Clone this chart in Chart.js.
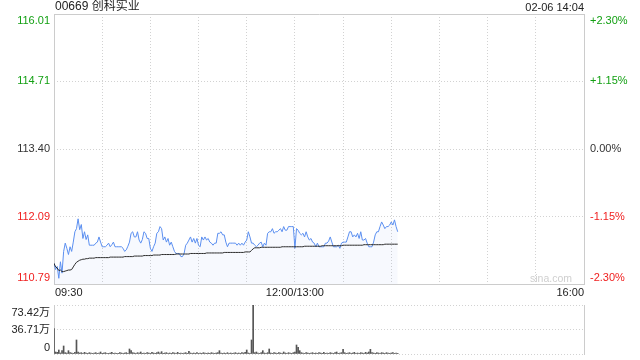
<!DOCTYPE html>
<html>
<head>
<meta charset="utf-8">
<script src="https://cdn.jsdelivr.net/npm/chart.js@4.4.1/dist/chart.umd.min.js"></script>
<style>
  html, body { margin: 0; padding: 0; background: #fff; }
  #wrap { position: relative; width: 640px; height: 360px; overflow: hidden; }
  #wrap canvas { position: absolute; left: 0; }
</style>
</head>
<body>
<div id="wrap">
  <canvas id="priceChart" width="640" height="300" style="top:0"></canvas>
  <canvas id="volChart" width="640" height="70" style="top:290px"></canvas>
</div>
<script>
const stockName = "00669 创科实业";
const stamp = "02-06 14:04";
const prevClose = 113.40;
const priceTicks = [110.79, 112.09, 113.40, 114.71, 116.01];
const pctTicks = ["-2.30%", "-1.15%", "0.00%", "+1.15%", "+2.30%"];
// minutes from 09:30 (lunch break removed), grid every half hour
const gridMinutes = [0, 30, 60, 90, 120, 150, 180, 210, 240, 270, 300, 330];
const timeLabels = ["09:30", "12:00/13:00", "16:00"];
const timeLabelMinutes = [0, 150, 330];
const volTicks = [0, 36.71, 73.42];
const volTickLabels = ["0", "36.71万", "73.42万"];

// one value per minute, 09:30 .. 14:04
const prices = [
  111.19, 111.07, 111.13, 110.90, 111.22, 111.00, 111.42, 111.58, 111.48, 111.36,
  111.51, 111.42, 111.60, 111.80, 111.86, 112.05, 111.84, 111.94, 111.67, 111.80,
  111.65, 111.74, 111.54, 111.54, 111.54, 111.54, 111.58, 111.60, 111.70, 111.60,
  111.51, 111.51, 111.51, 111.54, 111.58, 111.51, 111.55, 111.60, 111.51, 111.51,
  111.51, 111.51, 111.51, 111.48, 111.42, 111.45, 111.52, 111.60, 111.77, 111.80,
  111.70, 111.70, 111.80, 111.64, 111.58, 111.65, 111.80, 111.77, 111.67, 111.67,
  111.48, 111.42, 111.51, 111.58, 111.77, 111.80, 111.90, 111.86, 111.64, 111.70,
  111.60, 111.67, 111.54, 111.60, 111.51, 111.42, 111.38, 111.38, 111.38, 111.32,
  111.32, 111.38, 111.54, 111.58, 111.64, 111.70, 111.60, 111.67, 111.58, 111.67,
  111.54, 111.51, 111.70, 111.64, 111.70, 111.64, 111.67, 111.60, 111.58, 111.54,
  111.58, 111.58, 111.77, 111.77, 111.80, 111.74, 111.74, 111.60, 111.51, 111.58,
  111.58, 111.58, 111.58, 111.58, 111.54, 111.58, 111.54, 111.58, 111.54, 111.60,
  111.64, 111.80, 111.70, 111.58, 111.58, 111.54, 111.51, 111.54, 111.58, 111.60,
  111.51, 111.58, 111.54, 111.77, 111.80, 111.80, 111.86, 111.77, 111.80, 111.80,
  111.83, 111.86, 111.80, 111.90, 111.83, 111.83, 111.90, 111.90, 111.90, 111.90,
  111.48,
  111.86, 111.83, 111.77, 111.74, 111.77, 111.70, 111.80, 111.70, 111.64, 111.67,
  111.60, 111.58, 111.51, 111.58, 111.51, 111.51, 111.51, 111.51, 111.58, 111.58,
  111.62, 111.70, 111.60, 111.51, 111.51, 111.51, 111.54, 111.48, 111.58, 111.60,
  111.60, 111.60, 111.70, 111.80, 111.80, 111.70, 111.74, 111.70, 111.77, 111.67,
  111.80, 111.64, 111.64, 111.67, 111.58, 111.51, 111.51, 111.51, 111.60, 111.74,
  111.80, 111.80, 111.90, 111.99, 111.93, 111.86, 111.90, 111.90, 111.93, 111.99,
  111.93, 112.03, 111.90, 111.80
];

const avgPrices = [
  111.19, 111.12, 111.10, 111.05, 111.06, 111.03, 111.03, 111.04, 111.05, 111.06,
  111.06, 111.07, 111.12, 111.17, 111.21, 111.23, 111.25, 111.26, 111.27, 111.27,
  111.28, 111.28, 111.29, 111.29, 111.29, 111.29, 111.30, 111.30, 111.30, 111.30,
  111.30, 111.30, 111.30, 111.30, 111.30, 111.31, 111.31, 111.31, 111.31, 111.31,
  111.31, 111.31, 111.31, 111.31, 111.32, 111.32, 111.32, 111.32, 111.32, 111.32,
  111.33, 111.33, 111.33, 111.33, 111.33, 111.33, 111.34, 111.34, 111.34, 111.34,
  111.34, 111.34, 111.35, 111.35, 111.35, 111.35, 111.35, 111.36, 111.36, 111.36,
  111.36, 111.36, 111.36, 111.36, 111.36, 111.36, 111.37, 111.37, 111.37, 111.37,
  111.37, 111.37, 111.37, 111.37, 111.37, 111.38, 111.38, 111.38, 111.38, 111.38,
  111.38, 111.38, 111.38, 111.38, 111.38, 111.39, 111.39, 111.39, 111.39, 111.39,
  111.39, 111.39, 111.39, 111.39, 111.39, 111.39, 111.40, 111.40, 111.40, 111.40,
  111.40, 111.40, 111.40, 111.40, 111.40, 111.40, 111.40, 111.40, 111.40, 111.41,
  111.41, 111.41, 111.41, 111.44, 111.47, 111.49, 111.49, 111.49, 111.49, 111.50,
  111.50, 111.50, 111.50, 111.50, 111.50, 111.50, 111.50, 111.50, 111.50, 111.50,
  111.50, 111.50, 111.51, 111.51, 111.51, 111.51, 111.51, 111.51, 111.51, 111.51,
  111.51, 111.51, 111.51, 111.51, 111.51, 111.51, 111.52, 111.52, 111.52, 111.52,
  111.52, 111.52, 111.52, 111.52, 111.52, 111.52, 111.52, 111.53, 111.53, 111.53,
  111.53, 111.53, 111.53, 111.53, 111.53, 111.53, 111.53, 111.53, 111.53, 111.53,
  111.54, 111.54, 111.54, 111.54, 111.54, 111.54, 111.54, 111.54, 111.54, 111.54,
  111.54, 111.54, 111.54, 111.55, 111.55, 111.55, 111.55, 111.55, 111.55, 111.55,
  111.55, 111.55, 111.55, 111.55, 111.55, 111.55, 111.56, 111.56, 111.56, 111.56,
  111.56, 111.56, 111.56, 111.56, 111.56
];

// volume in 万 shares per minute
const volumes = [
  38.0, 3.0, 2.5, 6.0, 1.5, 5.0, 12.0, 2.0, 1.5, 5.0,
  2.0, 1.5, 1.0, 2.5, 21.0, 3.0, 1.5, 2.0, 1.0, 2.5,
  1.5, 1.0, 2.0, 1.5, 1.0, 1.5, 2.0, 1.0, 1.5, 3.0,
  1.0, 1.5, 2.0, 1.0, 1.0, 1.5, 2.5, 1.0, 1.5, 1.0,
  1.0, 2.0, 1.5, 1.0, 1.5, 2.0, 1.0, 7.5, 5.0, 2.0,
  1.5, 1.0, 2.0, 1.5, 3.0, 1.0, 1.5, 1.0, 2.0, 1.5,
  1.0, 2.5, 1.5, 1.0, 2.0, 3.0, 1.5, 3.5, 1.0, 1.5,
  2.0, 1.0, 1.5, 1.0, 2.0, 1.5, 1.0, 2.5, 1.0, 1.5,
  1.0, 1.5, 2.0, 1.0, 4.0, 1.5, 1.0, 1.5, 1.0, 2.0,
  1.0, 1.5, 1.0, 2.0, 1.5, 1.0, 1.5, 1.0, 2.0, 1.5,
  1.0, 1.5, 2.0, 5.0, 1.5, 1.0, 1.5, 1.0, 2.0, 1.0,
  1.5, 1.0, 1.5, 2.0, 1.0, 1.5, 1.0, 2.0, 1.5, 2.5,
  6.0, 1.5, 1.0, 21.0, 73.42, 2.0, 3.0, 1.5, 1.0, 2.0,
  5.0, 1.5, 1.0, 2.0, 7.5, 1.5, 1.0, 2.0, 1.5, 1.0,
  2.0, 1.5, 1.0, 3.0, 1.5, 1.0, 2.0, 1.5, 1.0, 2.0,
  3.0, 13.5, 10.0, 5.0, 2.0, 1.5, 1.0, 2.0, 1.5, 1.0,
  1.5, 2.0, 1.0, 1.5, 1.0, 2.0, 1.5, 1.0, 2.5, 1.0,
  1.5, 1.0, 2.0, 1.5, 1.0, 2.0, 3.0, 1.0, 1.5, 2.0,
  7.0, 2.0, 1.0, 1.5, 2.0, 1.0, 1.5, 2.5, 1.0, 1.5,
  1.0, 2.0, 1.5, 1.0, 2.5, 1.5, 3.0, 7.0, 2.0, 1.5,
  1.0, 2.0, 1.5, 1.0, 2.0, 1.5, 1.0, 2.0, 1.5, 1.0,
  1.5, 2.0, 1.0, 1.5, 1.0
];

const FONT = '"Liberation Sans", Arial, "Noto Sans CJK SC", sans-serif';
const GREEN = '#13a013';
const RED = '#f02020';
const GRID = '#d2d2d2';
const FRAME = '#cccccc';

function tickColor(v) {
  if (v > prevClose + 0.001) return GREEN;
  if (v < prevClose - 0.001) return RED;
  return '#333';
}

// solid frame around the plot area
const framePlugin = {
  id: 'frame',
  beforeDatasetsDraw(chart, args, opts) {
    const a = chart.chartArea, c = chart.ctx;
    const l = Math.round(a.left) + 0.5, r = Math.round(a.right) + 0.5;
    const t = Math.round(a.top) + 0.5, b = Math.round(a.bottom) + 0.5;
    c.save();
    c.strokeStyle = FRAME;
    c.lineWidth = 1;
    c.beginPath();
    c.moveTo(l, t - 0.5); c.lineTo(l, b + 0.5);
    c.moveTo(r, t - 0.5); c.lineTo(r, b + 0.5);
    if (opts.full) {
      c.moveTo(l, t); c.lineTo(r, t);
      c.moveTo(l, b); c.lineTo(r, b);
    }
    c.stroke();
    c.restore();
  }
};

const priceText = {
  id: 'priceText',
  afterDraw(chart) {
    const c = chart.ctx, xs = chart.scales.x, ys = chart.scales.y, a = chart.chartArea;
    c.save();
    c.textBaseline = 'middle';
    c.fillStyle = '#222';
    c.font = '12px ' + FONT;
    c.textAlign = 'left';
    c.fillText(stockName, a.left + 1, 7);
    c.font = '11px ' + FONT;
    c.textAlign = 'right';
    c.fillText(stamp, a.right, 8);

    priceTicks.forEach((v, i) => {
      let py = ys.getPixelForValue(v);
      if (i === 0) py -= 6;
      if (i === priceTicks.length - 1) py += 7;
      c.fillStyle = tickColor(v);
      c.textAlign = 'right';
      c.fillText(v.toFixed(2), a.left - 4, py);
      c.textAlign = 'left';
      c.fillText(pctTicks[i], a.right + 6, py);
    });

    const aligns = ['left', 'center', 'right'];
    c.fillStyle = '#222';
    timeLabels.forEach((t, i) => {
      c.textAlign = aligns[i];
      c.fillText(t, xs.getPixelForValue(timeLabelMinutes[i]) + (i === 0 ? 1 : 0), a.bottom + 9);
    });

    c.fillStyle = '#cfcfcf';
    c.font = '10.5px ' + FONT;
    c.textAlign = 'right';
    c.fillText('sina.com', a.right - 12, a.bottom - 5);
    c.restore();
  }
};

const volText = {
  id: 'volText',
  afterDraw(chart) {
    const c = chart.ctx, ys = chart.scales.y, a = chart.chartArea;
    c.save();
    c.textBaseline = 'middle';
    c.textAlign = 'right';
    c.fillStyle = '#222';
    c.font = '11px ' + FONT;
    volTicks.forEach((v, i) => {
      let py = ys.getPixelForValue(v);
      if (i === 0) py -= 6;
      if (i === volTicks.length - 1) py += 8;
      c.fillText(volTickLabels[i], a.left - 4, py);
    });
    c.restore();
  }
};

const priceCtx = document.getElementById('priceChart').getContext('2d');
new Chart(priceCtx, {
  type: 'line',
  data: {
    datasets: [
      {
        label: 'avg',
        data: avgPrices.map((p, i) => ({ x: i, y: p })),
        borderColor: '#2b2b2b',
        borderWidth: 1,
        pointRadius: 0,
        fill: false,
        order: 1
      },
      {
        label: 'price',
        data: prices.map((p, i) => ({ x: i, y: p })),
        borderColor: '#5b8ff0',
        backgroundColor: 'rgba(91, 143, 240, 0.05)',
        borderWidth: 1,
        pointRadius: 0,
        fill: 'start',
        order: 2
      }
    ]
  },
  options: {
    responsive: false,
    animation: false,
    devicePixelRatio: 1,
    layout: { padding: { left: 54, right: 56, top: 14, bottom: 16 } },
    plugins: { legend: { display: false }, tooltip: { enabled: false }, frame: { full: true } },
    scales: {
      x: {
        type: 'linear',
        min: 0,
        max: 330,
        afterBuildTicks: s => { s.ticks = gridMinutes.map(v => ({ value: v })); },
        ticks: { display: false },
        grid: { color: GRID, drawTicks: false },
        border: { display: false, dash: [1, 2] }
      },
      y: {
        min: 110.79,
        max: 116.01,
        afterBuildTicks: s => { s.ticks = priceTicks.map(v => ({ value: v })); },
        ticks: { display: false },
        grid: { color: GRID, drawTicks: false },
        border: { display: false, dash: [1, 2] }
      }
    }
  },
  plugins: [framePlugin, priceText]
});

const volCtx = document.getElementById('volChart').getContext('2d');
new Chart(volCtx, {
  type: 'bar',
  data: {
    datasets: [{
      label: 'volume',
      data: volumes.map((v, i) => ({ x: i, y: v })),
      backgroundColor: '#555',
      barThickness: 1
    }]
  },
  options: {
    responsive: false,
    animation: false,
    devicePixelRatio: 1,
    layout: { padding: { left: 54, right: 56, top: 15, bottom: 6 } },
    plugins: { legend: { display: false }, tooltip: { enabled: false }, frame: { full: false } },
    scales: {
      x: {
        type: 'linear',
        min: 0,
        max: 330,
        offset: false,
        ticks: { display: false },
        grid: { display: false, drawTicks: false },
        border: { display: false }
      },
      y: {
        min: 0,
        max: 73.42,
        afterBuildTicks: s => { s.ticks = volTicks.map(v => ({ value: v })); },
        ticks: { display: false },
        grid: { color: GRID, drawTicks: false },
        border: { display: false, dash: [1, 2] }
      }
    }
  },
  plugins: [framePlugin, volText]
});
</script>
</body>
</html>
